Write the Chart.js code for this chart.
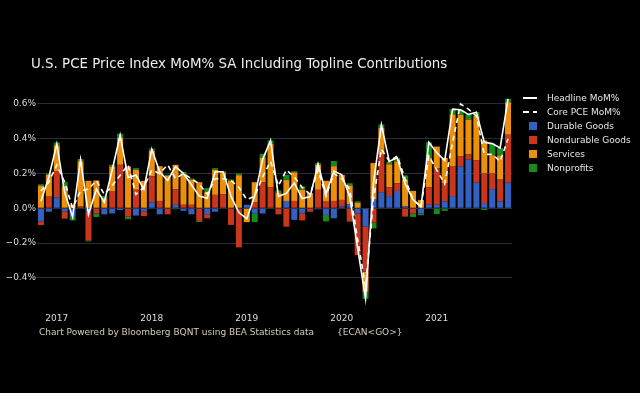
<!DOCTYPE html>
<html>
<head>
<meta charset="utf-8">
<script src="https://cdn.jsdelivr.net/npm/chart.js@4.4.0/dist/chart.umd.min.js"></script>
<style>
  html, body { margin: 0; padding: 0; background: #000; }
</style>
</head>
<body>
<canvas id="pce" width="640" height="393"></canvas>
<script>
// monthly data, Nov 2016 .. Oct 2021 (contributions in %-points)
var months = [
  '2016-11', '2016-12',
  '2017-01', '2017-02', '2017-03', '2017-04', '2017-05', '2017-06', '2017-07', '2017-08', '2017-09', '2017-10', '2017-11', '2017-12',
  '2018-01', '2018-02', '2018-03', '2018-04', '2018-05', '2018-06', '2018-07', '2018-08', '2018-09', '2018-10', '2018-11', '2018-12',
  '2019-01', '2019-02', '2019-03', '2019-04', '2019-05', '2019-06', '2019-07', '2019-08', '2019-09', '2019-10', '2019-11', '2019-12',
  '2020-01', '2020-02', '2020-03', '2020-04', '2020-05', '2020-06', '2020-07', '2020-08', '2020-09', '2020-10', '2020-11', '2020-12',
  '2021-01', '2021-02', '2021-03', '2021-04', '2021-05', '2021-06', '2021-07', '2021-08', '2021-09', '2021-10'
];

var durable = [
  -0.077, -0.02,
  0.063, -0.02, -0.05, 0, -0.02, 0, -0.035, -0.03, -0.01, 0, -0.042, -0.02,
  0.033, -0.035, 0, 0.02, -0.015, -0.035, 0, -0.035, -0.02, 0, 0, 0,
  0.02, -0.03, -0.03, 0, 0, 0.042, -0.067, -0.03, 0, -0.006, -0.038, -0.058,
  0.01, 0.023, -0.03, -0.106, 0.05, 0.092, 0.07, 0.1, 0.01, 0, -0.03, 0.02,
  0.02, 0.04, 0.07, 0.24, 0.28, 0.148, 0.03, 0.11, 0.04, 0.148
];
var nondurable = [
  -0.02, 0.067,
  0.148, -0.04, 0, 0.01, -0.165, -0.03, 0, 0.096, 0.25, -0.048, 0.106, -0.025,
  0.15, 0.042, -0.035, 0.09, 0.02, 0.02, -0.073, -0.023, 0.077, 0.08, -0.096, -0.225,
  0, 0.035, 0.15, 0.12, -0.035, -0.106, 0.042, -0.04, -0.02, 0.106, 0.038, 0.042,
  0.038, -0.077, -0.24, -0.26, -0.083, 0.22, 0.05, 0.044, -0.048, -0.03, 0, 0.1,
  0.21, 0.105, 0.17, 0.06, 0.03, 0.127, 0.17, 0.09, 0.125, 0.275
];
var services = [
  0.13, 0.125,
  0.15, 0.125, 0.02, 0.26, 0.158, 0.16, 0.058, 0.144, 0.154, 0.24, 0.115, 0.158,
  0.148, 0.2, 0.186, 0.14, 0.18, 0.145, 0.15, 0.096, 0.144, 0.127, 0.158, 0.19,
  -0.08, 0.115, 0.14, 0.25, 0.09, 0.12, 0.165, 0.106, 0.087, 0.144, 0.12, 0.2,
  0.144, 0.108, 0.03, -0.115, 0.21, 0.15, 0.133, 0.125, 0.154, 0.1, 0.048, 0.17,
  0.125, 0.145, 0.3, 0.237, 0.2, 0.255, 0.19, 0.105, 0.138, 0.187
];
var nonprofits = [
  0.008, 0.008,
  0.017, 0.025, -0.02, 0.013, -0.006, -0.02, 0.013, 0.01, 0.025, -0.015, 0.01, 0,
  0.012, 0, 0.006, -0.006, 0.01, 0.006, -0.006, 0.02, 0.01, 0.005, 0.008, 0.01,
  0, -0.05, 0.023, 0.02, 0.013, 0.03, 0.006, 0.02, 0, 0.01, -0.038, 0.03,
  0, 0.013, 0.01, -0.04, -0.033, 0.02, 0.015, 0.02, 0.025, -0.02, -0.01, 0.09,
  -0.033, -0.015, 0.03, 0.03, 0.03, 0.023, -0.01, 0.067, 0.044, 0.02
];
var headline = [
  0.04, 0.18,
  0.37, 0.09, -0.05, 0.28, -0.035, 0.11, 0.035, 0.22, 0.42, 0.177, 0.19, 0.11,
  0.34, 0.21, 0.16, 0.24, 0.2, 0.135, 0.07, 0.058, 0.21, 0.21, 0.07, -0.025,
  -0.06, 0.07, 0.28, 0.39, 0.068, 0.086, 0.146, 0.056, 0.067, 0.254, 0.082, 0.214,
  0.192, 0.067, -0.23, -0.52, 0.145, 0.48, 0.27, 0.29, 0.14, 0.05, 0.008, 0.38,
  0.32, 0.275, 0.57, 0.567, 0.54, 0.553, 0.38, 0.372, 0.347, 0.63
];
var core = [
  0.10, 0.15,
  0.25, 0.15, 0.0, 0.10, 0.11, 0.16, 0.08, 0.13, 0.19, 0.25, 0.08, 0.12,
  0.22, 0.20, 0.25, 0.17, 0.20, 0.17, 0.14, 0.08, 0.17, 0.17, 0.16, 0.12,
  0.05, 0.07, 0.18, 0.27, 0.13, 0.22, 0.18, 0.12, 0.08, 0.22, 0.07, 0.20,
  0.17, 0.11, -0.18, -0.45, 0.05, 0.34, 0.27, 0.30, 0.17, 0.05, 0.01, 0.30,
  0.22, 0.14, 0.38, 0.60, 0.57, 0.53, 0.31, 0.31, 0.27, 0.40
];
var yTicks = [-0.4, -0.2, 0, 0.2, 0.4, 0.6];

var title = 'U.S. PCE Price Index MoM% SA Including Topline Contributions';
var footer = 'Chart Powered by Bloomberg BQNT using BEA Statistics data';
var footerCode = '{ECAN<GO>}';

var FONT = '"DejaVu Sans", Verdana, sans-serif';

function barSet(label, data, color) {
  return { type: 'bar', label: label, data: data, backgroundColor: color, stack: 'pce', order: 1 };
}

// title, footer and the side legend
var textPlugin = {
  id: 'texts',
  afterDraw: function (chart) {
    var ctx = chart.ctx;
    ctx.save();
    ctx.fillStyle = '#ededed';
    ctx.textBaseline = 'alphabetic';
    ctx.font = '13.4px ' + FONT;
    ctx.fillText(title, 31, 68);

    ctx.font = '9px ' + FONT;
    ctx.fillStyle = '#d4cdb8';
    ctx.fillText(footer, 39, 335);
    ctx.fillText(footerCode, 337, 335);

    ctx.textBaseline = 'middle';
    chart.data.datasets.forEach(function (ds, i) {
      var y = 98 + i * 14;
      if (ds.type === 'line') {
        ctx.strokeStyle = ds.borderColor;
        ctx.lineWidth = 2;
        ctx.setLineDash(ds.borderDash ? [6, 4] : []);
        ctx.beginPath();
        ctx.moveTo(523, y);
        ctx.lineTo(537, y);
        ctx.stroke();
        ctx.setLineDash([]);
      } else {
        ctx.fillStyle = ds.backgroundColor;
        ctx.fillRect(529, y - 4, 8, 8);
      }
      ctx.fillStyle = '#e6e6e6';
      ctx.fillText(ds.label, 547, y + 0.5);
    });
    ctx.restore();
  }
};

new Chart(document.getElementById('pce'), {
  type: 'bar',
  data: {
    labels: months,
    datasets: [
      { type: 'line', label: 'Headline MoM%', data: headline, borderColor: '#ffffff', borderWidth: 1.6,
        pointRadius: 0, tension: 0, stack: 'headline', order: 0 },
      { type: 'line', label: 'Core PCE MoM%', data: core, borderColor: '#ffffff', borderWidth: 1.6,
        borderDash: [5, 4], pointRadius: 0, tension: 0, stack: 'core', order: 0 },
      barSet('Durable Goods', durable, '#3461c1'),
      barSet('Nondurable Goods', nondurable, '#c9361b'),
      barSet('Services', services, '#ec8f0a'),
      barSet('Nonprofits', nonprofits, '#178a1d')
    ]
  },
  options: {
    responsive: false,
    animation: false,
    layout: { padding: { top: 88, right: 128, bottom: 0, left: 0 } },
    datasets: { bar: { barPercentage: 0.76, categoryPercentage: 1 } },
    plugins: {
      legend: { display: false },
      title: { display: false },
      tooltip: { enabled: false }
    },
    scales: {
      x: {
        stacked: true,
        grid: { display: false, drawTicks: false },
        border: { display: false },
        ticks: {
          autoSkip: false, maxRotation: 0, minRotation: 0, padding: 5,
          color: '#dcdcdc', font: { family: FONT, size: 9 },
          callback: function (v, i) {
            return months[i].slice(5) === '01' ? months[i].slice(0, 4) : '';
          }
        },
        afterFit: function (s) { s.height = 85; }
      },
      y: {
        stacked: true,
        min: -0.574,
        max: 0.692,
        afterBuildTicks: function (s) {
          s.ticks = yTicks.map(function (v) { return { value: v }; });
        },
        grid: { color: '#262c39', lineWidth: 1, drawTicks: false },
        border: { display: false },
        ticks: {
          padding: 1, color: '#dcdcdc', font: { family: FONT, size: 9 },
          callback: function (v) {
            var t = Math.abs(v).toFixed(1) + '%';
            return v < 0 ? '\u2212' + t : t;
          }
        },
        afterFit: function (s) { s.width = 37; }
      }
    }
  },
  plugins: [textPlugin]
});
</script>
</body>
</html>
